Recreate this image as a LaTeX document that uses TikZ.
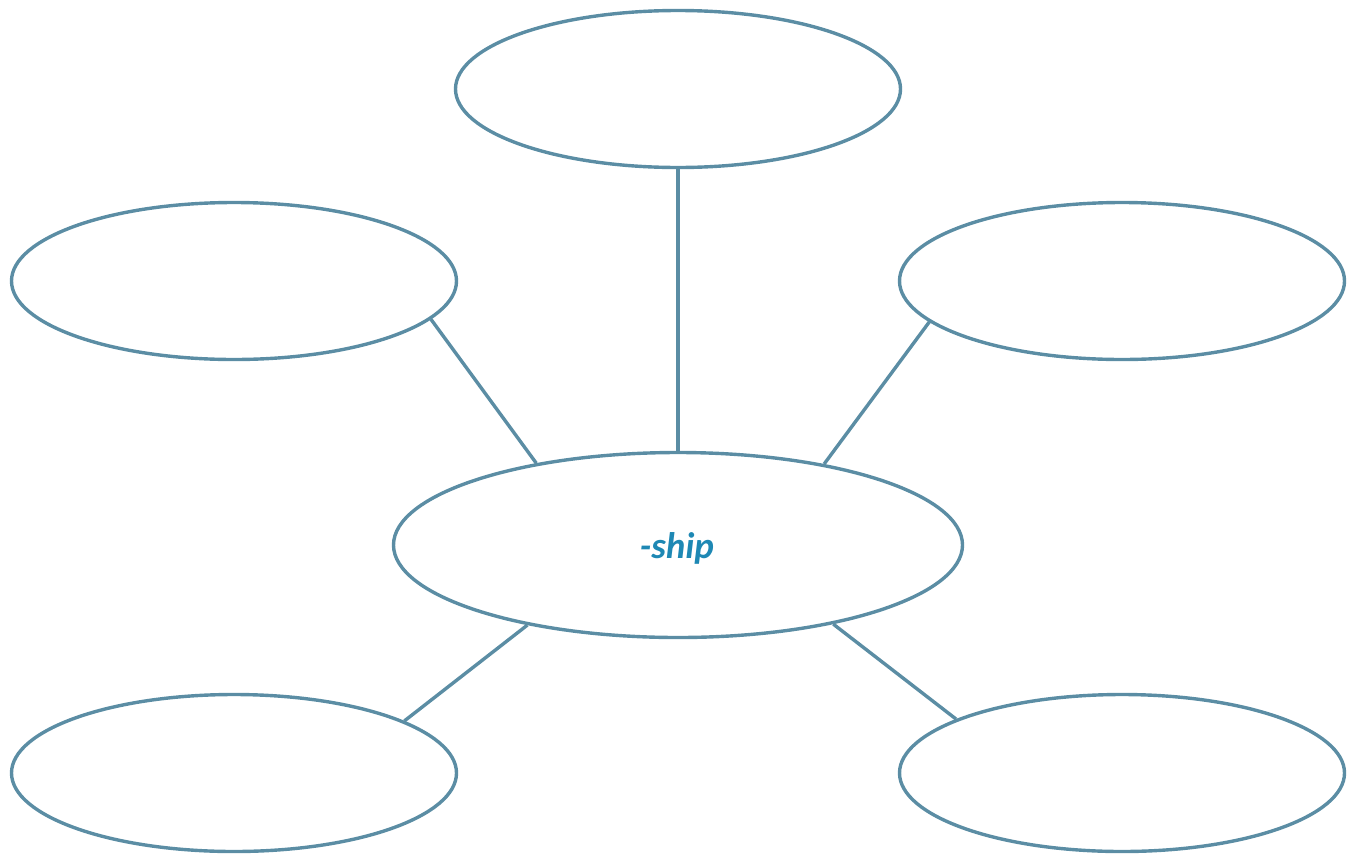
\documentclass[tikz,border=0pt]{standalone}
\usepackage{fontspec}
\setmainfont{Carlito}
\usetikzlibrary{shapes.geometric}
\definecolor{linec}{HTML}{5B8DA4}
\definecolor{textc}{HTML}{1E88B4}
\tikzset{
  bubble/.style={draw=linec, line width=3.4pt, ellipse, inner sep=0pt, minimum width=445pt, minimum height=157pt},
  hub/.style={bubble, minimum width=569pt, minimum height=185pt},
  link/.style={draw=linec, line width=3.4pt}
}
\begin{document}
\begin{tikzpicture}[x=1pt,y=-1pt]
\useasboundingbox (0,0) rectangle (1356,857);
\node[bubble] (top) at (678,89) {};
\node[bubble] (lm) at (234,281) {};
\node[bubble] (rm) at (1122,281) {};
\node[hub] (c) at (678,545) {};
\node[bubble] (bl) at (234,773) {};
\node[bubble] (br) at (1122,773) {};
\node[text=textc, font=\fontsize{37}{40}\selectfont\bfseries\itshape] (lbl) at (677,548) {-ship};
\draw[link] (top.south) -- (c.north);
\draw[link] (lm.-11.9) -- (c.150.5);
\draw[link] (rm.-168.1) -- (c.29.5);
\draw[link] (bl.17.7) -- (c.-152.8);
\draw[link] (br.162.3) -- (c.-27.2);
\end{tikzpicture}
\end{document}
